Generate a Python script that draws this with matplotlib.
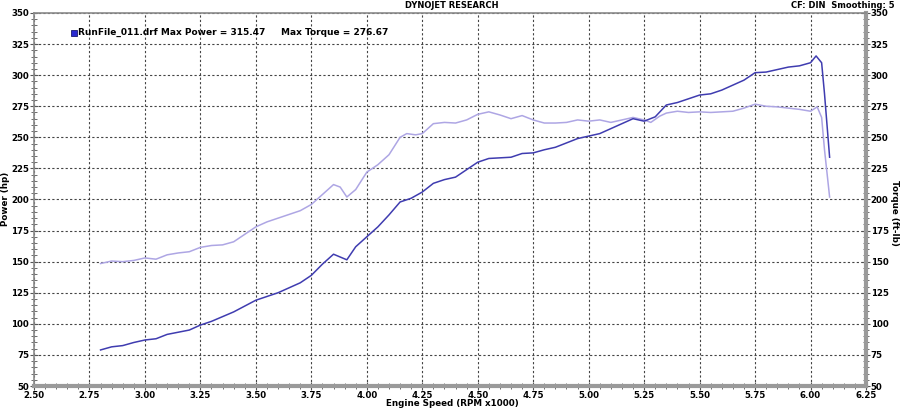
import matplotlib
matplotlib.use("Agg")
import matplotlib.pyplot as plt
from matplotlib.ticker import MultipleLocator

# dyno run, values
rpm_hp = [2.80, 2.85, 2.90, 2.95, 3.00, 3.05, 3.10, 3.20, 3.25, 3.30, 3.40, 3.50,
          3.60, 3.70, 3.75, 3.80, 3.85, 3.91, 3.95, 4.00, 4.05, 4.10, 4.15, 4.20,
          4.25, 4.30, 4.35, 4.40, 4.45, 4.50, 4.55, 4.60, 4.65, 4.70, 4.75, 4.80,
          4.85, 4.90, 4.95, 5.00, 5.05, 5.10, 5.15, 5.20, 5.25, 5.30, 5.35, 5.40,
          5.45, 5.50, 5.55, 5.60, 5.65, 5.70, 5.75, 5.80, 5.85, 5.90, 5.95, 6.00,
          6.025, 6.05, 6.063, 6.086]
power = [79, 81.5, 82.5, 85, 87, 88, 91.5, 95, 99, 102, 109.6, 119,
         125, 133, 139, 148, 156, 151.5, 162, 170, 178, 187.6, 198, 201,
         206, 213, 216, 218, 224, 230, 233, 233.5, 234, 237, 237.5, 240,
         242, 245.5, 249, 251, 253, 257, 261, 265, 263, 266.5, 276, 278,
         281, 284, 285, 288, 292, 296, 302, 302.5, 304.5, 306.5, 307.5, 310,
         315.47, 310, 285, 234]

rpm_tq = [2.80, 2.85, 2.90, 2.95, 3.00, 3.05, 3.10, 3.15, 3.20, 3.25, 3.30, 3.35,
          3.40, 3.45, 3.50, 3.55, 3.60, 3.65, 3.70, 3.75, 3.80, 3.85, 3.88, 3.91,
          3.95, 4.00, 4.05, 4.10, 4.15, 4.18, 4.22, 4.25, 4.30, 4.35, 4.40, 4.45,
          4.50, 4.55, 4.60, 4.65, 4.70, 4.75, 4.80, 4.85, 4.90, 4.95, 5.00, 5.05,
          5.10, 5.15, 5.20, 5.25, 5.28, 5.32, 5.35, 5.40, 5.45, 5.50, 5.55, 5.60,
          5.65, 5.70, 5.75, 5.80, 5.85, 5.90, 5.95, 6.00, 6.03, 6.05, 6.063, 6.086]
torque = [148.5, 150.5, 150, 151, 153, 152, 155.5, 157, 158, 161.5, 163, 163.5,
          166, 172, 178, 182, 185, 188, 191, 196, 204, 212, 210, 202,
          208, 222, 228, 236, 250, 253, 252, 253, 261, 262, 261.5, 264,
          268.5, 270.5, 268, 265, 267.5, 264, 261.5, 261.5, 262, 264, 263, 264,
          262, 264, 266, 264, 262, 267, 269.5, 271, 270, 270.5, 270, 270.5,
          271, 273.5, 276.67, 275, 274.5, 273.5, 272.5, 271, 274.5, 266, 240, 202]

run_name = "RunFile_011.drf"
max_power = 315.47
max_torque = 276.67

fig = plt.figure(figsize=(9, 4.08), dpi=100)
ax = fig.add_axes([34/900, 1-386/408, 832/900, 373/408])

ax.plot(rpm_tq, torque, color="#aea6e4", lw=1.1)
ax.plot(rpm_hp, power, color="#3f3cb0", lw=1.1)

ax.set_xlim(2.5, 6.25)
ax.set_ylim(50, 350)
ax.xaxis.set_major_locator(MultipleLocator(0.25))
ax.xaxis.set_minor_locator(MultipleLocator(0.05))
ax.yaxis.set_major_locator(MultipleLocator(25))
ax.yaxis.set_minor_locator(MultipleLocator(5))
ax.xaxis.set_major_formatter(plt.FormatStrFormatter("%.2f"))

ax.grid(True, which="major", color="#444444", linestyle=(0, (2, 2)), lw=0.8)
ax.tick_params(which="both", direction="inout", color="#555555",
               labelsize=6.2, right=True, labelright=True, pad=0.5)
ax.tick_params(which="major", length=6)
ax.tick_params(which="minor", length=4)
for lab in ax.get_xticklabels() + ax.get_yticklabels():
    lab.set_fontweight("bold")
for t in ax.yaxis.get_major_ticks():
    t.label2.set_fontweight("bold")

for side in ["left", "top"]:
    ax.spines[side].set_color("#8a8a8a")
    ax.spines[side].set_linewidth(1.2)
for side in ["right", "bottom"]:
    ax.spines[side].set_color("#9a9a9a")
    ax.spines[side].set_linewidth(3)

# axis titles
fig.text(452/900, 1-403.5/408, "Engine Speed (RPM x1000)", fontsize=6.3,
         fontweight="bold", ha="center", va="center")
fig.text(6/900, 1-199/408, "Power (hp)", rotation=90, fontsize=6.3,
         fontweight="bold", ha="center", va="center")
fig.text(894/900, 1-213/408, "Torque (ft-lb)", rotation=270, fontsize=6.3,
         fontweight="bold", ha="center", va="center")

fig.text(452/900, 1-5/408, "DYNOJET RESEARCH", fontsize=6, fontweight="bold",
         ha="center", va="center")
fig.text(895/900, 1-5/408, "CF: DIN  Smoothing: 5", fontsize=6, fontweight="bold",
         ha="right", va="center")

ax.plot([2.68], [334], marker="s", markersize=5, color="#2a2ad0",
        markeredgecolor="#1a1a70", markeredgewidth=0.6, clip_on=False)
ax.text(2.70, 334, f"{run_name} Max Power = {max_power:.2f}     Max Torque = {max_torque:.2f}",
        fontsize=6.5, fontweight="bold", va="center", ha="left")

fig.savefig("out.png", dpi=100)
